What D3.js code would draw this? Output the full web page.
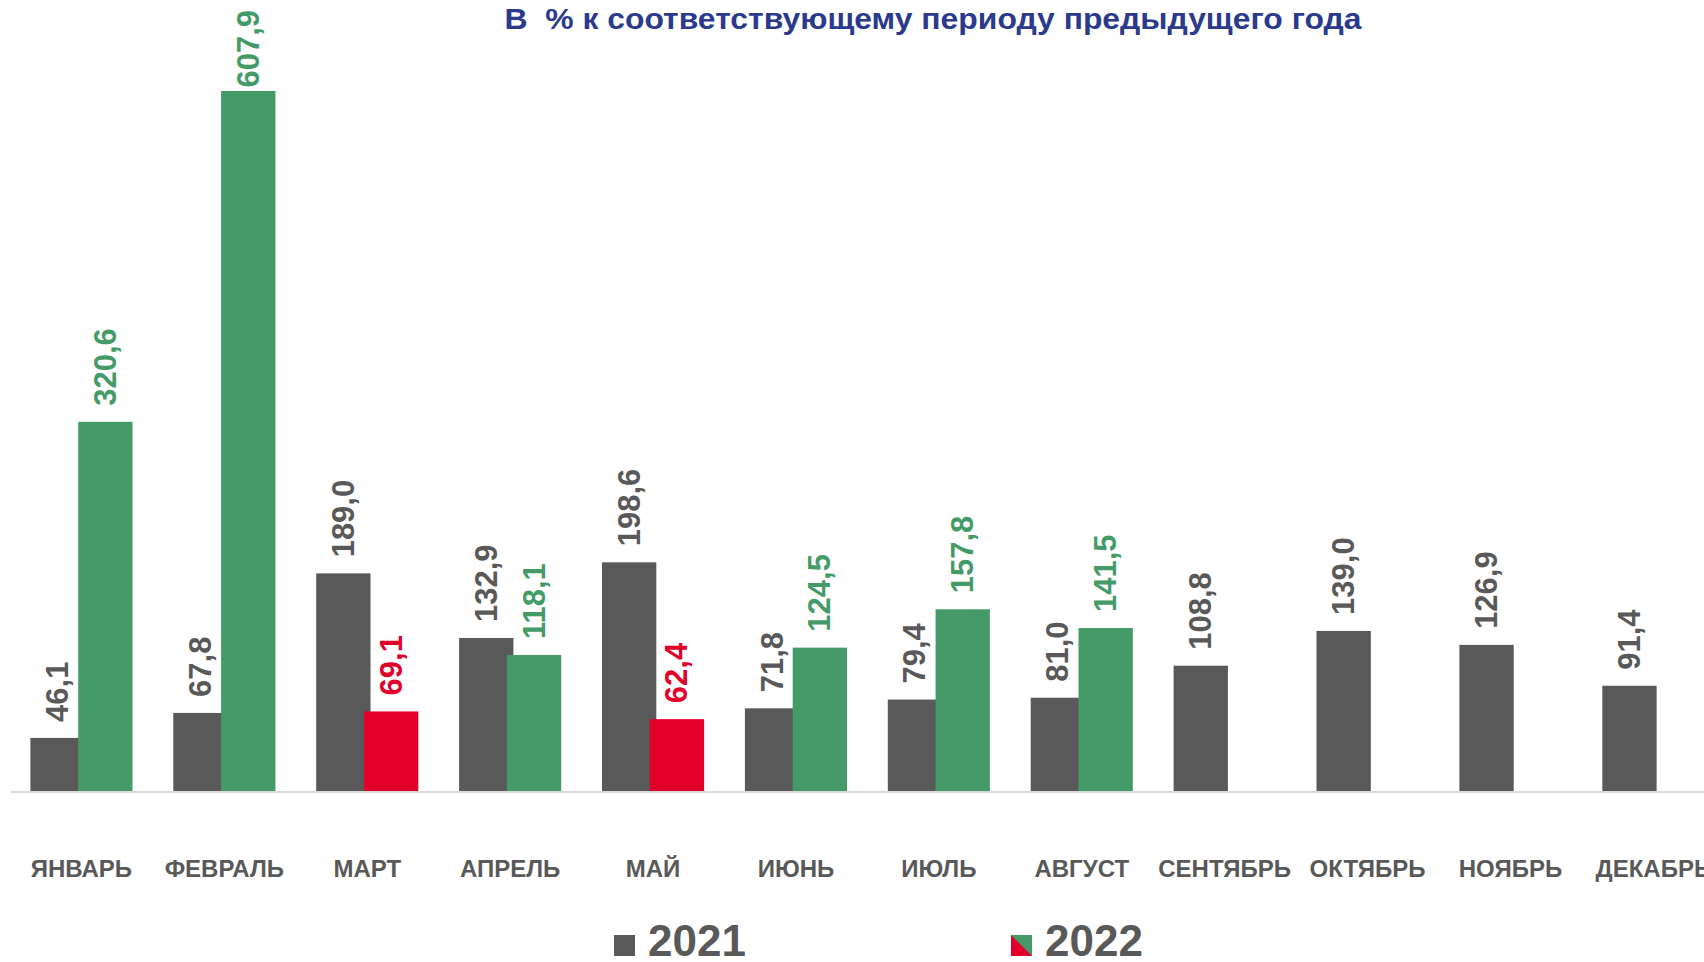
<!DOCTYPE html>
<html lang="ru">
<head>
<meta charset="utf-8">
<title>В % к соответствующему периоду предыдущего года</title>
<script src="https://d3js.org/d3.v7.min.js"></script>
<style>
  html, body { margin: 0; padding: 0; background: #fff; overflow: hidden; }
  svg { display: block; font-family: "Liberation Sans", Arial, sans-serif; }
</style>
</head>
<body>
<svg id="chart" width="1704" height="962"></svg>
<script>
// data
const months = ["ЯНВАРЬ", "ФЕВРАЛЬ", "МАРТ", "АПРЕЛЬ", "МАЙ", "ИЮНЬ",
                "ИЮЛЬ", "АВГУСТ", "СЕНТЯБРЬ", "ОКТЯБРЬ", "НОЯБРЬ", "ДЕКАБРЬ"]
const values2021 = [46.1, 67.8, 189.0, 132.9, 198.6, 71.8, 79.4, 81.0, 108.8, 139.0, 126.9, 91.4]
const values2022 = [320.6, 607.9, 69.1, 118.1, 62.4, 124.5, 157.8, 141.5, null, null, null, null]
const seriesNames = ["2021", "2022"]
const titleText = "В  % к соответствующему периоду предыдущего года"

// colours
const gray = "#595959"
const green = "#449b67"
const red = "#e2002b"
const navy = "#2b3a8c"

const W = 1704, H = 962
const baseY = 791, topY = 91
const plotLeft = 10, step = 142.9

const svg = d3.select("#chart")

const x = d3.scaleBand()
  .domain(months)
  .range([plotLeft, plotLeft + step * months.length])
  .paddingInner(0.2855)
  .paddingOuter(0.14275)

const y = d3.scaleLinear()
  .domain([0, d3.max(values2022)])
  .range([baseY, topY])

const barW = x.bandwidth() * 0.532
const offset2022 = x.bandwidth() - barW

const color2022 = v => v < 100 ? red : green

// title
svg.append("text")
  .attr("x", 933)
  .attr("y", 29)
  .attr("text-anchor", "middle")
  .attr("font-size", 29)
  .attr("font-weight", "bold")
  .attr("fill", navy)
  .attr("textLength", 857)
  .attr("lengthAdjust", "spacingAndGlyphs")
  .style("white-space", "pre")
  .text(titleText)

// baseline
svg.append("line")
  .attr("x1", plotLeft + 1).attr("x2", W)
  .attr("y1", baseY + 1).attr("y2", baseY + 1)
  .attr("stroke", "#d9d9d9")
  .attr("stroke-width", 2)

const rows = months.map((m, i) => ({ m, v1: values2021[i], v2: values2022[i] }))

// 2021 bars
svg.append("g").selectAll("rect")
  .data(rows)
  .join("rect")
  .attr("x", d => x(d.m))
  .attr("y", d => y(d.v1))
  .attr("width", barW)
  .attr("height", d => baseY - y(d.v1))
  .attr("fill", gray)

// 2022 bars
svg.append("g").selectAll("rect")
  .data(rows.filter(d => d.v2 != null))
  .join("rect")
  .attr("x", d => x(d.m) + offset2022)
  .attr("y", d => y(d.v2))
  .attr("width", barW)
  .attr("height", d => baseY - y(d.v2))
  .attr("fill", d => color2022(d.v2))

const fmt = v => d3.format(".1f")(v).replace(".", ",")

// value labels, rotated
function valueLabel(cx, v, fill) {
  const t = svg.append("text")
    .attr("font-size", 31)
    .attr("font-weight", "bold")
    .attr("fill", fill)
    .attr("dominant-baseline", "central")
    .text(fmt(v))
  const len = t.node().getComputedTextLength()
  let start = y(v) - 16
  if (start - len < 10) start = 10 + len
  t.attr("transform", "translate(" + cx + "," + start + ") rotate(-90)")
}

rows.forEach(d => {
  valueLabel(x(d.m) + barW / 2, d.v1, gray)
  if (d.v2 != null) valueLabel(x(d.m) + offset2022 + barW / 2, d.v2, color2022(d.v2))
})

// month labels (last one runs past the right edge, as in the original)
svg.append("g").selectAll("text")
  .data(months)
  .join("text")
  .attr("x", d => x(d) + x.bandwidth() / 2)
  .attr("y", 877)
  .attr("text-anchor", "middle")
  .attr("font-size", 24)
  .attr("font-weight", "bold")
  .attr("fill", gray)
  .text(d => d)

// legend
const legend = svg.append("g")
const sq = 21
legend.append("rect")
  .attr("x", 614).attr("y", 935)
  .attr("width", sq).attr("height", sq)
  .attr("fill", gray)
legend.append("text")
  .attr("x", 648).attr("y", 956)
  .attr("font-size", 44).attr("font-weight", "bold")
  .attr("fill", gray)
  .text(seriesNames[0])

const lx = 1011, ly = 935
legend.append("rect")
  .attr("x", lx).attr("y", ly)
  .attr("width", sq).attr("height", sq)
  .attr("fill", green)
legend.append("path")
  .attr("d", d3.line()([[lx, ly], [lx + sq, ly + sq], [lx, ly + sq]]) + "Z")
  .attr("fill", red)
legend.append("text")
  .attr("x", 1045).attr("y", 956)
  .attr("font-size", 44).attr("font-weight", "bold")
  .attr("fill", gray)
  .text(seriesNames[1])
</script>
</body>
</html>
